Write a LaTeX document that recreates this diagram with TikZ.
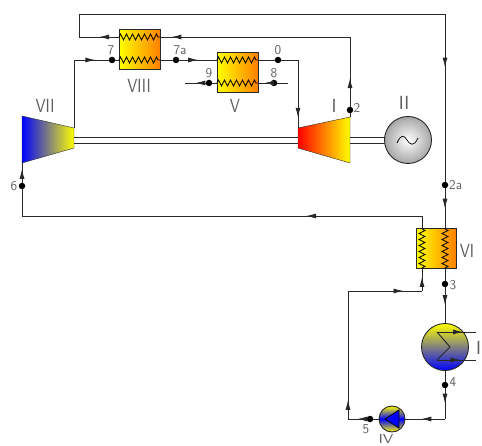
\documentclass[tikz,border=0pt]{standalone}
\usepackage{tikz}
\usepackage{xcolor}
\usetikzlibrary{calc,arrows.meta}
\usetikzlibrary{decorations,decorations.pathmorphing,decorations.markings}
\definecolor{hxorange}{RGB}{255,128,0}
\definecolor{linegray}{RGB}{40,40,40}
\definecolor{labelgray}{RGB}{95,95,95}
\newcommand{\narrow}[1]{\scalebox{.85}[1]{#1}}
\tikzset{>={Latex[length=10pt,width=5pt]}}
\tikzstyle{pipe}=[line width=0.95pt,draw=linegray]
\tikzstyle{mid>}=[decoration={markings, mark=at position 0.5 with {\arrow{>}}}, postaction={decorate}]
\tikzstyle{at>}=[decoration={markings, mark=at position #1 with {\arrow{>}}}, postaction={decorate}]
\tikzstyle{dot}=[circle,fill=black,inner sep=0pt,minimum size=6.5pt]
\tikzstyle{hxbox}=[draw=linegray,line width=1pt,left color=yellow,right color=hxorange,minimum width=41pt,minimum height=40pt,inner sep=0pt]
\tikzstyle{coil}=[line width=0.7pt,draw=black,decorate,decoration={zigzag,segment length=6pt,amplitude=3pt}]
\tikzstyle{bigroman}=[text=labelgray,inner sep=0pt,font=\sffamily\fontsize{19}{19}\selectfont]
\tikzstyle{stateno}=[text=labelgray,inner sep=0pt,font=\sffamily\fontsize{13.5}{13.5}\selectfont]
\begin{document}
\begin{tikzpicture}[x=1pt,y=-1pt]
\useasboundingbox (0,0) rectangle (482,446);
% heat exchangers
\node[hxbox] (hxVIII) at (139.5,50) {};
\node[hxbox] (hxV) at (237.5,73) {};
\node[hxbox,minimum width=40pt] (hxVI) at (436,249) {};
% turbines
\draw[draw=linegray,left color=red,right color=yellow] (298,128) coordinate(tIa) -- (350,117) coordinate(tIb) -- (350,163) -- (298,148) -- cycle;
\draw[draw=linegray,left color=blue,right color=yellow] (22,116) -- (74,128) coordinate(tVIIa) -- (74,148) -- (22,163) coordinate(tVIIb) -- cycle;
% generator, condenser, pump
\node[circle,draw=linegray,line width=0.9pt,inner color=white,outer color=black!35,minimum size=47pt,inner sep=0pt] (gen) at (408,140) {};
\node[circle,draw=linegray,line width=0.9pt,top color=yellow,bottom color=blue,minimum size=47pt,inner sep=0pt] (cond) at (445,347) {};
\node[circle,draw=linegray,line width=0.9pt,top color=yellow,bottom color=yellow,middle color=blue,minimum size=26pt,inner sep=0pt] (pump) at (392,419) {};
\draw[line width=0.7pt] (397,143) .. controls (401,134) and (404,135) .. (407,140) .. controls (410,145) and (414,147) .. (418,138);
\draw[line width=0.8pt,fill=blue] (399,410) -- (399,428) -- (385,419) -- cycle;
% shaft
\draw[linegray,line width=0.95pt] (74,137) -- (298,137) (74,143) -- (298,143);
\draw[linegray,line width=0.95pt] (350,137) -- (385,137) (350,143) -- (385,143);
% coils
\draw[coil] (119,37) -- (160,37);
\draw[coil] (119,60) -- (160,60);
\draw[coil] (217,60) -- (258,60);
\draw[coil] (217,83) -- (258,83);
\draw[coil] (422,229) -- (422,269);
\draw[coil] (445,229) -- (445,269);
% pipes
\node[dot] (n7) at (112,60) {};
\node[dot] (n7a) at (176,60) {};
\node[dot] (n0) at (278,60) {};
\node[dot] (n9) at (209,83) {};
\node[dot] (n8) at (274,83) {};
\node[dot] (n2) at (350,110) {};
\node[dot] (n2a) at (445,185) {};
\node[dot] (n6) at (22,186) {};
\node[dot] (n3) at (445,284) {};
\node[dot] (n4) at (445,385) {};
\node[dot] (n5) at (370,419) {};
\coordinate (c1) at (74,60);
\coordinate (c2) at (298,60);
\coordinate (c3) at (350,37);
\coordinate (c4) at (79,37);
\coordinate (c5) at (79,14);
\coordinate (c6) at (445,14);
\coordinate (c7) at (22,216);
\coordinate (c8) at (422,216);
\coordinate (c9) at (422,291);
\coordinate (c10) at (348,291);
\coordinate (c11) at (348,419);
\coordinate (c12) at (445,419);
\coordinate (c13) at (185,83);
\coordinate (c14) at (288,83);
\coordinate (c15) at (476,332);
\coordinate (c16) at (476,360);
\draw[pipe] (tVIIa) -- (c1);
\draw[pipe,at>=0.62] (c1) -- (n7);
\draw[pipe] (n7) -- (119,60);
\draw[pipe] (160,60) -- (n7a);
\draw[pipe,mid>] (n7a) -- (217,60);
\draw[pipe] (258,60) -- (n0) -- (c2);
\draw[pipe,at>=0.85] (c2) -- (tIa);
\draw[pipe] (tIb) -- (n2);
\draw[pipe,at>=0.41] (n2) -- (c3);
\draw[pipe,at>=0.94] (c3) -- (160,37);
\draw[pipe,mid>] (119,37) -- (c4);
\draw[pipe] (c4) -- (c5) -- (c6);
\draw[pipe,at>=0.32] (c6) -- (n2a);
\draw[pipe,mid>] (n2a) -- (445,229);
\draw[pipe] (445,269) -- (n3);
\draw[pipe,mid>] (n3) -- (cond.north);
\draw[pipe] (cond.south) -- (n4);
\draw[pipe,mid>] (n4) -- (c12);
\draw[pipe,at>=0.6] (c12) -- (pump.east);
\draw[pipe] (pump.west) -- (n5);
\draw[pipe,mid>] (n5) -- (c11);
\draw[pipe,at>=0.15] (c11) -- (c10);
\draw[pipe,at>=0.75] (c10) -- (c9);
\draw[pipe,at>=0.64] (c9) -- (422,269);
\draw[pipe] (422,229) -- (c8);
\draw[pipe,at>=0.29] (c8) -- (c7);
\draw[pipe] (c7) -- (n6);
\draw[pipe,at>=0.7] (n6) -- (tVIIb);
\draw[pipe] (c14) -- (n8);
\draw[pipe,mid>] (n8) -- (258,83);
\draw[pipe,mid>] (n9) -- (c13);
\draw[pipe] (n9) -- (217,83);
% condenser coil
\draw[pipe,at>=0.67] (437,332) -- (c15);
\draw[pipe] (437,332) -- (450,347) -- (437,360);
\draw[pipe,at>=0.6] (437,360) -- (c16);
% labels
\node[bigroman] at (139,86) {\narrow{VIII}};
\node[bigroman] at (235,106) {\narrow{V}};
\node[bigroman] at (45,106) {\narrow{VII}};
\node[bigroman] at (334,106) {I};
\node[bigroman] at (404,103) {II};
\node[bigroman] at (467,251) {\narrow{VI}};
\node[bigroman] at (478.5,348) {I};
\node[bigroman,font=\sffamily\fontsize{13}{13}\selectfont] at (386,439) {\scalebox{1.25}[1]{IV}};
\node[stateno] at (111,50) {7};
\node[stateno] at (180,50) {7a};
\node[stateno] at (278,50) {0};
\node[stateno] at (209,73) {9};
\node[stateno] at (274,73) {8};
\node[stateno] at (357,108) {2};
\node[stateno,anchor=west] at (449,185) {2a};
\node[stateno] at (14,186) {6};
\node[stateno] at (453,285) {3};
\node[stateno] at (453,382) {4};
\node[stateno] at (366,429) {5};
\end{tikzpicture}
\end{document}
